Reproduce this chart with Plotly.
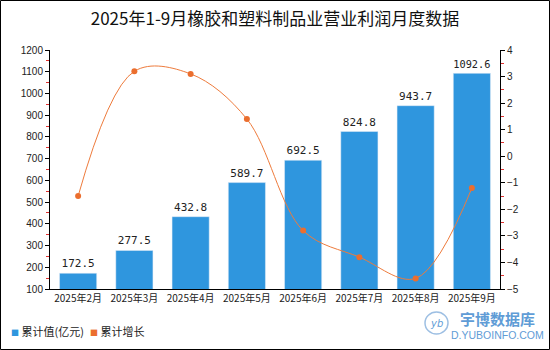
import plotly.graph_objects as go

categories = ["2025年2月", "2025年3月", "2025年4月", "2025年5月", "2025年6月", "2025年7月", "2025年8月", "2025年9月"]
cum_values = [172.5, 277.5, 432.8, 589.7, 692.5, 824.8, 943.7, 1092.6]
cum_growth = [-1.5, 3.2, 3.1, 1.4, -2.8, -3.8, -4.6, -1.2]
left_ticks = list(range(100, 1201, 100))
right_ticks = list(range(-5, 5))

W, H = 550, 350
L, R, T, B = 50, 50, 50, 61
pw, ph = W - L - R, H - T - B

BLUE = "#2F96DE"
ORANGE = "#EB6E2E"
LOGO = "#5F9CD6"

def px(x):
    return (x - L) / pw

def py(y):
    return (H - B - y) / ph

fig = go.Figure()
fig.add_trace(go.Bar(
    x=categories, y=cum_values, name="累计值(亿元)",
    marker=dict(color=BLUE),
    text=[f"{v:.1f}" for v in cum_values], textposition="outside",
    textfont=dict(family="DejaVu Sans Mono", size=11, color="#222"),
    cliponaxis=False, yaxis="y", showlegend=False,
))
fig.add_trace(go.Scatter(
    x=categories, y=cum_growth, name="累计增长", yaxis="y2",
    mode="lines+markers", line=dict(color="#EE7B3C", width=1, shape="spline", smoothing=1.0),
    marker=dict(color=ORANGE, size=6, symbol="circle"), showlegend=False,
))

font = "Noto Sans CJK SC"
fig.update_layout(
    width=W, height=H,
    margin=dict(l=L, r=R, t=T, b=B, autoexpand=False),
    paper_bgcolor="white", plot_bgcolor="white",
    title=dict(text="2025年1-9月橡胶和塑料制品业营业利润月度数据", x=0.5, xanchor="center", y=0.945, yanchor="middle",
               font=dict(family=font, size=17, color="#111")),
    font=dict(family=font, size=10, color="#222"),
    bargap=0.34,
    showlegend=False,
    xaxis=dict(showline=True, linecolor="black", linewidth=1, ticks="", showgrid=False,
               tickfont=dict(family=font, size=10, color="#222")),
    yaxis=dict(range=[100, 1200], tickvals=left_ticks, showline=True, linecolor="black", linewidth=1,
               ticks="outside", ticklen=4, tickcolor="black", showgrid=False, zeroline=False,
               minor=dict(ticks="outside", ticklen=3, tickcolor="#E03030", dtick=50, tick0=50, showgrid=False),
               tickfont=dict(family="Liberation Sans", size=10, color="#222")),
    yaxis2=dict(range=[-5, 4], tickvals=right_ticks, overlaying="y", side="right", showline=True,
                linecolor="black", linewidth=1, ticks="outside", ticklen=4, tickcolor="black",
                showgrid=False, zeroline=False,
                minor=dict(ticks="outside", ticklen=3, tickcolor="#E03030", dtick=0.5, tick0=-4.5, showgrid=False),
                tickfont=dict(family="Liberation Sans", size=10, color="#222")),
)

# outer frame
fig.add_shape(type="rect", xref="paper", yref="paper",
              x0=px(0.5), x1=px(W - 0.5), y0=py(H - 0.5), y1=py(0.5),
              line=dict(color="black", width=1), fillcolor="rgba(0,0,0,0)", layer="above")

# legend (drawn as text items)
fig.add_annotation(x=px(9), y=py(331), xref="paper", yref="paper", xanchor="left", yanchor="middle",
                   text=f"<span style='color:{BLUE};font-size:8px'>■</span> 累计值(亿元)", showarrow=False,
                   font=dict(family=font, size=11, color="#222"))
fig.add_annotation(x=px(88), y=py(331), xref="paper", yref="paper", xanchor="left", yanchor="middle",
                   text=f"<span style='color:{ORANGE};font-size:8px'>■</span> 累计增长", showarrow=False,
                   font=dict(family=font, size=11, color="#222"))

# watermark logo
fig.add_shape(type="circle", xref="paper", yref="paper",
              x0=px(425), x1=px(448), y0=py(334), y1=py(312),
              line=dict(color="#9DBFE3", width=1.5), fillcolor="rgba(0,0,0,0)")
fig.add_annotation(x=px(436.5), y=py(323), xref="paper", yref="paper", xanchor="center", yanchor="middle",
                   text="<i>yb</i>", showarrow=False, font=dict(family="DejaVu Sans", size=10, color=LOGO))
fig.add_annotation(x=px(497), y=py(318), xref="paper", yref="paper", xanchor="center", yanchor="middle",
                   text="<b>宇博数据库</b>", showarrow=False, borderpad=0,
                   font=dict(family=font, size=15, color=LOGO))
fig.add_annotation(x=px(497), y=py(335), xref="paper", yref="paper", xanchor="center", yanchor="middle",
                   text="D.YUBOINFO.COM", showarrow=False, borderpad=0,
                   font=dict(family="Liberation Sans", size=10.5, color=LOGO))

fig.write_html("out.html")
